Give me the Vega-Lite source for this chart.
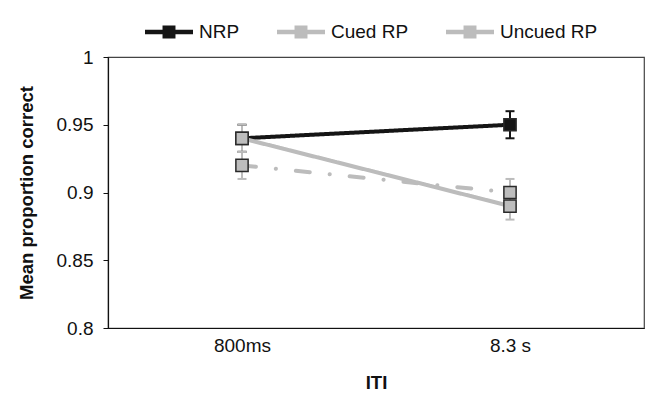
{
  "$schema": "https://vega.github.io/schema/vega-lite/v6.json",
  "autosize": "none",
  "width": 536,
  "height": 271,
  "padding": {"left": 108, "top": 57, "right": 1, "bottom": 66},
  "background": "white",
  "config": {
    "font": "Liberation Sans",
    "view": {"stroke": "#444", "strokeWidth": 1.2},
    "axis": {"labelFont": "Liberation Sans", "titleFont": "Liberation Sans", "labelColor": "#111", "titleColor": "#111", "grid": false},
    "legend": {"padding": 0}
  },
  "data": {
    "values": [
      {"iti": "800ms", "group": "NRP", "mean": 0.94, "lo": 0.93, "hi": 0.95},
      {"iti": "8.3 s", "group": "NRP", "mean": 0.95, "lo": 0.94, "hi": 0.96},
      {"iti": "800ms", "group": "Cued RP", "mean": 0.92, "lo": 0.91, "hi": 0.93},
      {"iti": "8.3 s", "group": "Cued RP", "mean": 0.90, "lo": 0.89, "hi": 0.91},
      {"iti": "800ms", "group": "Uncued RP", "mean": 0.94, "lo": 0.93, "hi": 0.95},
      {"iti": "8.3 s", "group": "Uncued RP", "mean": 0.89, "lo": 0.88, "hi": 0.90}
    ]
  },
  "encoding": {
    "x": {
      "field": "iti", "type": "nominal", "sort": ["800ms", "8.3 s"],
      "scale": {"type": "point", "padding": 0.5},
      "axis": {"title": "ITI", "titleFontSize": 18.5, "titleFontWeight": "bold", "titlePadding": 18, "labelFontSize": 19, "labelAngle": 0, "labelPadding": 8, "ticks": false, "domainColor": "#111", "domainWidth": 1.2}
    }
  },
  "layer": [
    {
      "mark": {"type": "rule", "strokeWidth": 2},
      "encoding": {
        "y": {"field": "lo", "type": "quantitative"},
        "y2": {"field": "hi"},
        "color": {"field": "group", "type": "nominal"}
      }
    },
    {
      "mark": {"type": "tick", "size": 9, "thickness": 2, "opacity": 1},
      "encoding": {
        "y": {"field": "lo", "type": "quantitative"},
        "color": {"field": "group", "type": "nominal"}
      }
    },
    {
      "mark": {"type": "tick", "size": 9, "thickness": 2, "opacity": 1},
      "encoding": {
        "y": {"field": "hi", "type": "quantitative"},
        "color": {"field": "group", "type": "nominal"}
      }
    },
    {
      "mark": {"type": "line", "strokeWidth": 4, "strokeCap": "round"},
      "encoding": {
        "y": {
          "field": "mean", "type": "quantitative",
          "scale": {"domain": [0.8, 1], "nice": false, "zero": false},
          "axis": {"title": "Mean proportion correct", "titleFontSize": 18.5, "titleFontWeight": "bold", "titlePadding": 20, "labelFontSize": 19, "labelPadding": 10, "values": [0.8, 0.85, 0.9, 0.95, 1], "labelExpr": "'' + datum.value", "tickSize": 5, "tickColor": "#111", "domainColor": "#111", "domainWidth": 1.2}
        },
        "color": {
          "field": "group", "type": "nominal",
          "scale": {"domain": ["NRP", "Cued RP", "Uncued RP"], "range": ["#151515", "#bcbcbc", "#bcbcbc"]},
          "legend": {
            "title": null,
            "orient": "none",
            "legendX": 37,
            "legendY": -49,
            "direction": "horizontal",
            "labelFontSize": 19,
            "labelColor": "#111",
            "labelOffset": 6,
            "columnPadding": 37,
            "symbolType": "M-1,-0.094H1V0.094H-1Z M-0.27,-0.27H0.27V0.27H-0.27Z",
            "symbolSize": 2304,
            "symbolStrokeWidth": 0,
            "symbolDash": [],
            "symbolOpacity": 1,
            "encode": {
              "symbols": {
                "update": {
                  "fill": {"scale": "color", "field": "value"},
                  "fillOpacity": {"value": 1},
                  "opacity": {"value": 1},
                  "strokeWidth": {"value": 0}
                }
              }
            }
          }
        },
        "strokeDash": {
          "field": "group", "type": "nominal",
          "scale": {"domain": ["NRP", "Cued RP", "Uncued RP"], "range": [[1, 0], [14, 20, 0.1, 20], [1, 0]]},
          "legend": null
        }
      }
    },
    {
      "mark": {"type": "point", "shape": "square", "filled": true, "size": 150, "stroke": "#2a2a2a", "strokeWidth": 1.5, "opacity": 1},
      "encoding": {
        "y": {"field": "mean", "type": "quantitative"},
        "fill": {
          "field": "group", "type": "nominal",
          "scale": {"domain": ["NRP", "Cued RP", "Uncued RP"], "range": ["#151515", "#bdbdbd", "#bdbdbd"]},
          "legend": null
        }
      }
    }
  ]
}
